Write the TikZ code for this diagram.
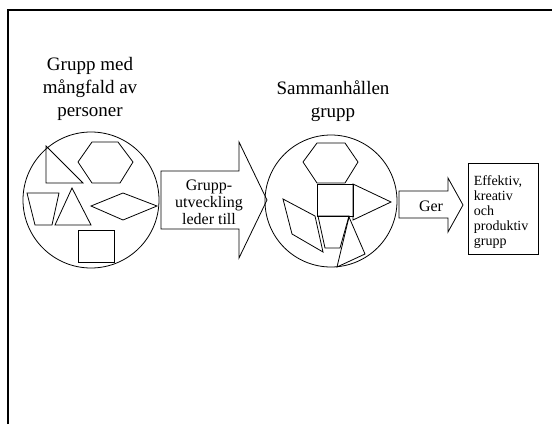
\documentclass[tikz,border=0pt]{standalone}
\usepackage{fontspec}
\setmainfont{Liberation Serif}
\usepackage{tikz}

\begin{document}
\begin{tikzpicture}[
  x=1pt, y=-1pt,
  thin line/.style={draw, line width=0.8pt, line join=miter},
  group/.style={circle, draw, line width=0.8pt, minimum size=136pt, inner sep=0pt},
  title/.style={align=center, font=\fontsize{19}{23}\selectfont},
  arrowtext/.style={align=center, font=\fontsize{16}{17}\selectfont}
]
\useasboundingbox (0,0) rectangle (552,424);
% frame
\draw[line width=2.3pt] (8,424) -- (8,10) -- (552,10);

% titles
\node[title] (mangfald) at (90,88.5) {Grupp med\\mångfald av\\personer};
\node[title] (samman) at (333,101.5) {Sammanhållen\\grupp};

% the scattered group
\node[group] (grp) at (91,200) {};
\draw[thin line] (46,146) -- (46,183) -- (83,183) -- cycle;
\draw[thin line] (92,142) -- (118,142) -- (133,162) -- (120,183) -- (92,183) -- (78,162) -- cycle;
\draw[thin line] (27,193) -- (59,193) -- (52,225) -- (35,225) -- cycle;
\draw[thin line] (72,188) -- (91,225) -- (55,225) -- cycle;
\draw[thin line] (91,206) -- (123,193) -- (157,206) -- (123,220) -- cycle;
\draw[thin line] (78,230) rectangle (114,262);

% big arrow
\draw[thin line] (161,171) -- (239,171) -- (239,142) -- (267,200)
  -- (239,258) -- (239,229) -- (161,229) -- cycle;
\node[arrowtext] (utv) at (209,202) {Grupp-\\utveckling\\leder till};

% the fitted group
\node[group, minimum size=132pt] (samgrp) at (331,201) {};
\draw[thin line] (317,143) -- (345,143) -- (358,162) -- (345,183) -- (317,183) -- (303,162) -- cycle;
\draw[thin line] (317,184) rectangle (353,216);
\draw[thin line] (353,184) -- (391,202) -- (353,220) -- cycle;
\draw[thin line] (283,199) -- (315,216) -- (323,252) -- (292,234) -- cycle;
\draw[thin line] (318,216) -- (349,216) -- (340,248) -- (325,248) -- cycle;
\draw[thin line] (349,217) -- (337,267) -- (365,254) -- cycle;

% small arrow
\draw[thin line] (399,191) -- (448,191) -- (448,178) -- (463,205)
  -- (448,232) -- (448,218) -- (399,218) -- cycle;
\node[arrowtext] (ger) at (431,206) {Ger};

% result
\node[draw, line width=0.8pt, anchor=north west, minimum width=70pt,
  minimum height=91pt] (result) at (468,163) {};
\node[align=left, text width=59pt, inner sep=0pt,
  font=\fontsize{14}{15}\selectfont] (resulttext)
  at ([yshift=-3pt]result.center) {Effektiv,\\kreativ\\och\\produktiv\\grupp};
\end{tikzpicture}
\end{document}
